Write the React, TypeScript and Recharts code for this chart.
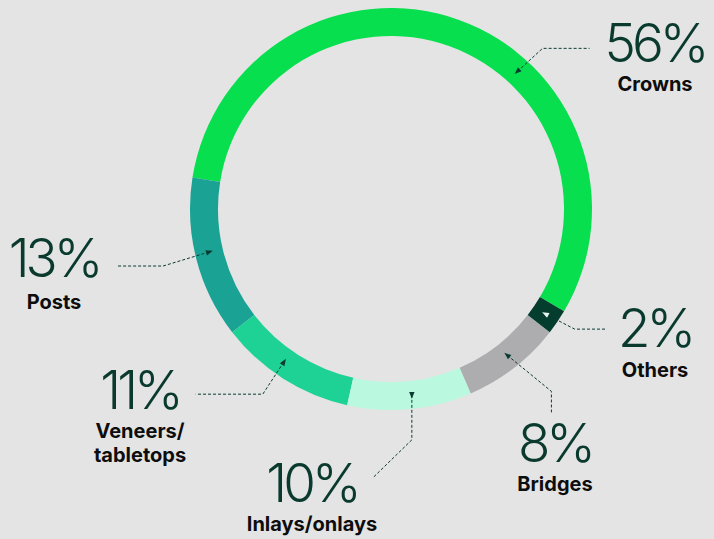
import { PieChart, Pie, Cell } from 'recharts';

const categories = ['Crowns', 'Posts', 'Veneers/ tabletops', 'Inlays/onlays', 'Bridges', 'Others'];
const shares = [56, 13, 11, 10, 8, 2];
const sliceColors = ['#07DF4F', '#1AA394', '#1ED194', '#BAF9DF', '#ADADB0', '#043C2D'];

const data = categories.map((name, i) => ({ name, value: shares[i] }));

// where each annotation sits: text centre, baselines, arrow angle, leader bends relative to the arrow tip
const labelLayout = [
  { x: 655, pctY: 62, nameY: 91, angle: 47.4, leader: [[25, -23], [72, -23]] },
  { x: 54, pctY: 277, nameY: 309, angle: 193.3, leader: [[-46, 14], [-91, 14]] },
  { x: 140, pctY: 409, nameY: 438, angle: 235, leader: [[-21, 32], [-88, 32]] },
  { x: 312, pctY: 502, nameY: 531, angle: 276.4, leader: [[0, 45], [-38, 82]], flip: true },
  { x: 555, pctY: 462, nameY: 491, angle: 308.5, leader: [[44, 36], [44, 57]] },
  { x: 655, pctY: 347, nameY: 377, leader: [[29, 15], [61, 15]], light: true },
];

const RAD = Math.PI / 180;
const INK = '#0B3B33';

function SliceLabel(props: any) {
  const { cx, cy, midAngle, innerRadius, outerRadius, index, name, value } = props;
  const lay = labelLayout[index];
  const angle = lay.angle ?? midAngle;
  const r = (innerRadius + outerRadius) / 2;
  const ax = cx + r * Math.cos(-angle * RAD);
  const ay = cy + r * Math.sin(-angle * RAD);
  const pts = [[ax, ay], ...lay.leader.map(([dx, dy]) => [ax + dx, ay + dy])];
  const d = pts.map((p, i) => `${i ? 'L' : 'M'}${p[0]},${p[1]}`).join(' ');

  // arrowhead points from the first bend back to the ring
  const [ex, ey] = pts[1];
  let ang = Math.atan2(ay - ey, ax - ex);
  if (lay.flip) ang += Math.PI;
  const s = 4;
  const tip = [ax + Math.cos(ang) * s, ay + Math.sin(ang) * s];
  const b1 = [ax + Math.cos(ang + 2.4) * s, ay + Math.sin(ang + 2.4) * s];
  const b2 = [ax + Math.cos(ang - 2.4) * s, ay + Math.sin(ang - 2.4) * s];

  const lines = String(name).split(' ');

  return (
    <g>
      <path d={d} fill="none" stroke={INK} strokeWidth={1} strokeDasharray="3 2" />
      <polygon
        points={`${tip[0]},${tip[1]} ${b1[0]},${b1[1]} ${b2[0]},${b2[1]}`}
        fill={lay.light ? '#E8F5EE' : INK}
      />
      <text
        x={lay.x}
        y={lay.pctY}
        textAnchor="middle"
        fill="#0A3A2E"
        style={{ fontFamily: 'Inter', fontWeight: 300, fontSize: 53, letterSpacing: -4 }}
      >
        {value}%
      </text>
      {lines.map((ln, i) => (
        <text
          key={i}
          x={lay.x}
          y={lay.nameY + i * 24}
          textAnchor="middle"
          fill="#0D0D0D"
          style={{ fontFamily: 'Inter', fontWeight: 700, fontSize: 20 }}
        >
          {ln}
        </text>
      ))}
    </g>
  );
}

export default function App() {
  return (
    <div style={{ position: 'fixed', left: 0, top: 0, width: 714, height: 539, background: '#E4E4E4' }}>
      <PieChart width={714} height={539} margin={{ top: 0, right: 0, bottom: 0, left: 0 }}>
        <Pie
          data={data}
          dataKey="value"
          nameKey="name"
          cx={391}
          cy={209}
          innerRadius={173}
          outerRadius={201}
          startAngle={-30.6}
          endAngle={329.4}
          stroke="none"
          label={SliceLabel}
          labelLine={false}
          isAnimationActive={false}
        >
          {data.map((d, i) => (
            <Cell key={d.name} fill={sliceColors[i]} />
          ))}
        </Pie>
      </PieChart>
    </div>
  );
}
